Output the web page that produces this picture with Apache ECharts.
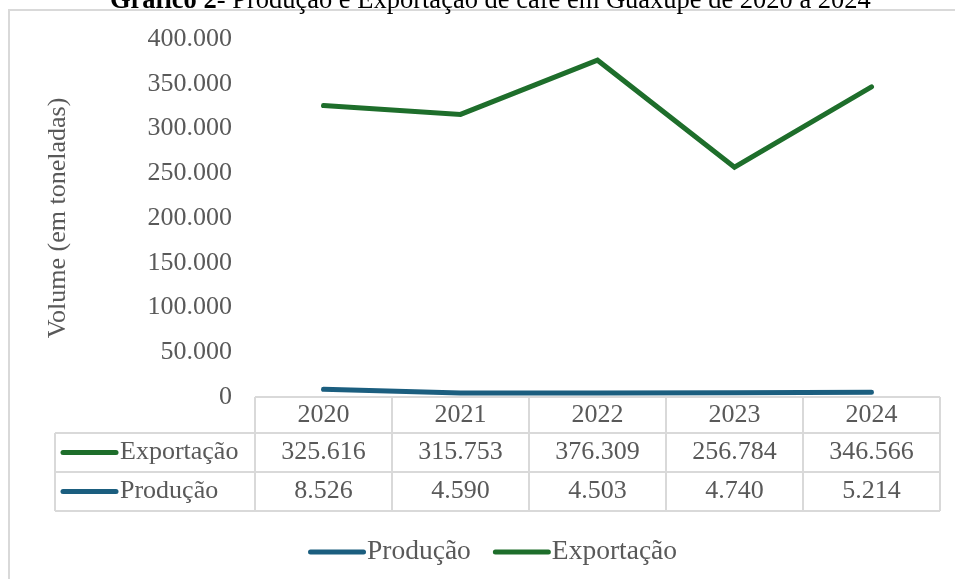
<!DOCTYPE html>
<html>
<head>
<meta charset="utf-8">
<script src="https://cdn.jsdelivr.net/npm/echarts@6/dist/echarts.min.js"></script>
<style>
  html,body{margin:0;padding:0;background:#fff;}
  #chart{width:955px;height:579px;}
</style>
</head>
<body>
<div id="chart"></div>
<script>
  // dados do gráfico
  var anos = ['2020', '2021', '2022', '2023', '2024'];
  var exportacao = [325616, 315753, 376309, 256784, 346566];
  var producao = [8526, 4590, 4503, 4740, 5214];
  var yMax = 400000;
  var yStep = 50000;

  var FONT = 'Liberation Serif';
  var GRAY = '#595959';
  var BORDER = '#d9d9d9';
  var VERDE = '#1e6e2b';
  var AZUL = '#1b5e7f';

  // layout
  var gridLeft = 255, gridRight = 940, gridTop = 39, gridBottom = 397;
  var tableLeft = 55;
  var rowEdges = [397, 433, 472, 511];

  function fmt(v){
    return String(v).replace(/\B(?=(\d{3})+(?!\d))/g, '.');
  }

  // bordas da tabela de dados
  var graphics = [];
  graphics.push({
    type:'rect', silent:true,
    shape:{x:9, y:10, width:1000, height:600},
    style:{fill:'none', stroke:BORDER, lineWidth:2}
  });
  var colW = (gridRight - gridLeft) / anos.length;
  rowEdges.forEach(function(y, i){
    graphics.push({
      type:'line', silent:true,
      shape:{x1: i==0 ? gridLeft : tableLeft, y1:y, x2:gridRight, y2:y},
      style:{stroke:BORDER, lineWidth:2}
    });
  });
  for(var c=0; c<=anos.length; c++){
    var x = gridLeft + c*colW;
    graphics.push({
      type:'line', silent:true,
      shape:{x1:x, y1:rowEdges[0], x2:x, y2:rowEdges[3]},
      style:{stroke:BORDER, lineWidth:2}
    });
  }
  graphics.push({
    type:'line', silent:true,
    shape:{x1:tableLeft, y1:rowEdges[1], x2:tableLeft, y2:rowEdges[3]},
    style:{stroke:BORDER, lineWidth:2}
  });
  // chaves da legenda dentro da tabela
  var linhas = [{nome:'Exportação', cor:VERDE}, {nome:'Produção', cor:AZUL}];
  linhas.forEach(function(l, i){
    var yc = (rowEdges[i+1] + rowEdges[i+2]) / 2;
    graphics.push({
      type:'line', silent:true,
      shape:{x1:63, y1:yc, x2:116, y2:yc},
      style:{stroke:l.cor, lineWidth:5, lineCap:'round'}
    });
    graphics.push({
      type:'text', silent:true,
      x:120, y:yc,
      style:{text:l.nome, fill:GRAY, font:'26px "' + FONT + '"', verticalAlign:'middle', align:'left'}
    });
  });

  var myChart = echarts.init(document.getElementById('chart'));
  var option = {
    animation:false,
    title:{
      text:'{b|Gráfico 2}- Produção e Exportação de café em Guaxupé de 2020 a 2024',
      left:105,
      top:-17,
      textStyle:{
        fontFamily:FONT, fontSize:26.5, fontWeight:'normal', color:'#000', lineHeight:26,
        rich:{ b:{fontFamily:FONT, fontSize:26.5, fontWeight:'bold', color:'#000', lineHeight:26} }
      }
    },
    grid:{
      left:gridLeft, right:955 - gridRight, top:gridTop, bottom:579 - gridBottom,
      containLabel:false
    },
    legend:{
      data:['Produção', 'Exportação'],
      left:303, top:533,
      itemWidth:58, itemHeight:5, itemGap:22,
      icon:'path://M2.5,0 L55.5,0 A2.5,2.5 0 0 1 55.5,5 L2.5,5 A2.5,2.5 0 0 1 2.5,0 Z',
      textStyle:{fontFamily:FONT, fontSize:27.5, color:GRAY, padding:[0,0,0,-4]}
    },
    xAxis:[
      {
        type:'category', data:anos, position:'bottom',
        axisLine:{show:false}, axisTick:{show:false},
        axisLabel:{fontFamily:FONT, fontSize:26, lineHeight:26, color:GRAY, margin:5}
      },
      {
        type:'category', data:anos, position:'bottom', offset:37.5,
        axisLine:{show:false}, axisTick:{show:false},
        axisLabel:{fontFamily:FONT, fontSize:26, lineHeight:26, color:GRAY, margin:5,
          formatter:function(v, i){ return fmt(exportacao[i]); }}
      },
      {
        type:'category', data:anos, position:'bottom', offset:76.5,
        axisLine:{show:false}, axisTick:{show:false},
        axisLabel:{fontFamily:FONT, fontSize:26, lineHeight:26, color:GRAY, margin:5,
          formatter:function(v, i){ return fmt(producao[i]); }}
      }
    ],
    yAxis:{
      type:'value', min:0, max:yMax, interval:yStep,
      name:'Volume (em toneladas)',
      nameLocation:'middle', nameRotate:90, nameGap:184,
      nameTextStyle:{fontFamily:FONT, fontSize:26, color:GRAY},
      axisLine:{show:false}, axisTick:{show:false}, splitLine:{show:false},
      axisLabel:{fontFamily:FONT, fontSize:26, color:GRAY, margin:23, formatter:fmt}
    },
    series:[
      {
        name:'Exportação', type:'line', data:exportacao,
        symbol:'none', color:VERDE,
        lineStyle:{color:VERDE, width:5, cap:'round', join:'miter'}
      },
      {
        name:'Produção', type:'line', data:producao,
        symbol:'none', color:AZUL,
        lineStyle:{color:AZUL, width:5, cap:'round', join:'miter'}
      }
    ],
    graphic:graphics
  };
  myChart.setOption(option);
</script>
</body>
</html>
